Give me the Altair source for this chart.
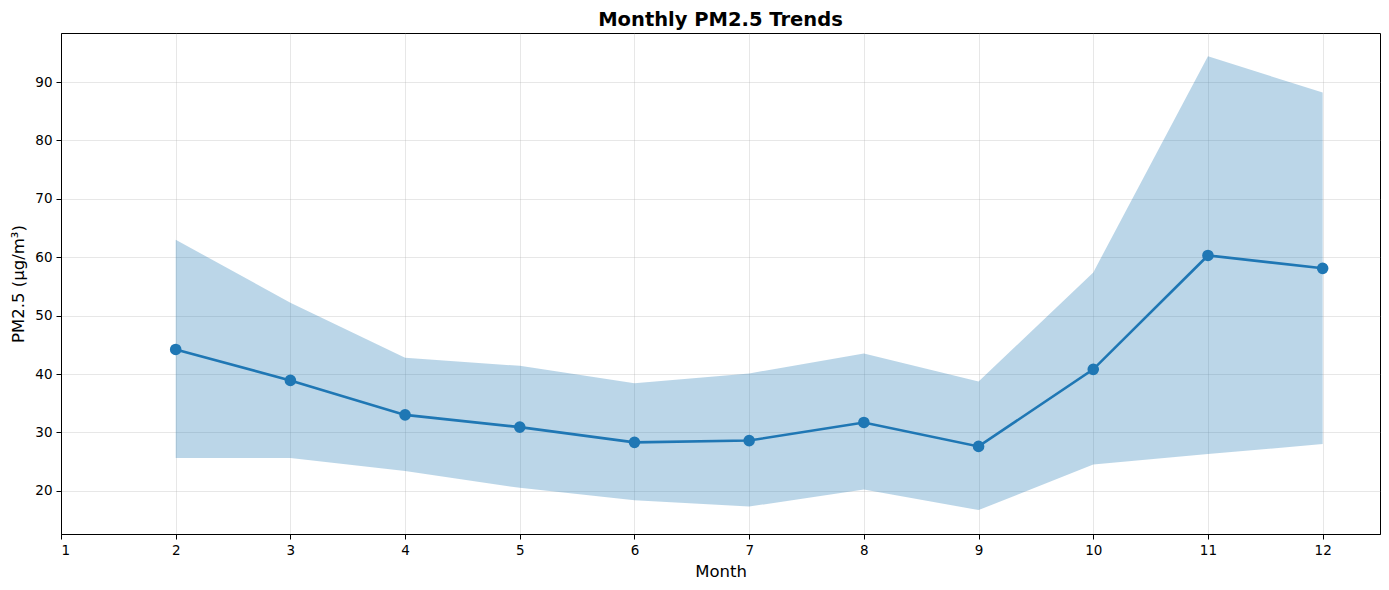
import altair as alt
import pandas as pd

months = [2, 3, 4, 5, 6, 7, 8, 9, 10, 11, 12]
mean_pm = [44.2, 38.9, 33.0, 30.9, 28.3, 28.6, 31.7, 27.6, 40.8, 60.3, 58.1]
upper_pm = [63.0, 52.2, 42.8, 41.4, 38.4, 40.1, 43.5, 38.7, 57.4, 94.4, 88.2]
lower_pm = [25.6, 25.6, 23.4, 20.5, 18.4, 17.3, 20.2, 16.7, 24.5, 26.3, 28.0]
x_ticks = [1, 2, 3, 4, 5, 6, 7, 8, 9, 10, 11, 12]
y_ticks = [20, 30, 40, 50, 60, 70, 80, 90]

df = pd.DataFrame({"Month": months, "mean": mean_pm, "upper": upper_pm, "lower": lower_pm})

C = "#1f77b4"
xs = alt.Scale(domain=[1, 12.5], nice=False, zero=False)
ys = alt.Scale(domain=[12.6, 98.4], nice=False, zero=False)

xax = alt.Axis(values=x_ticks, title="Month", format="d")
yax = alt.Axis(values=y_ticks, title="PM2.5 (µg/m³)")

base = alt.Chart(df)

band = base.mark_area(color=C, opacity=0.3).encode(
    x=alt.X("Month:Q", scale=xs, axis=xax),
    y=alt.Y("upper:Q", scale=ys, axis=yax),
    y2="lower:Q",
)
line = base.mark_line(color=C, strokeWidth=2.6).encode(
    x=alt.X("Month:Q", scale=xs),
    y=alt.Y("mean:Q", scale=ys),
)
pts = base.mark_circle(color=C, size=135, opacity=1).encode(
    x=alt.X("Month:Q", scale=xs),
    y=alt.Y("mean:Q", scale=ys),
)

chart = (
    alt.layer(band, line, pts)
    .properties(
        width=1373,
        height=574,
        autosize=alt.AutoSizeParams(type="fit", contains="padding"),
        title=alt.Title("Monthly PM2.5 Trends", fontSize=19.5, fontWeight="bold",
                        font="DejaVu Sans", color="black", offset=3),
        padding={"left": 2, "top": 1, "right": 1, "bottom": 2},
    )
    .configure_view(stroke="black", strokeWidth=1)
    .configure_axis(
        labelFont="DejaVu Sans", titleFont="DejaVu Sans",
        labelFontSize=13.5, titleFontSize=16.5, titleFontWeight="normal",
        labelColor="black", titleColor="black",
        domainColor="black", tickColor="black", tickSize=5,
        gridColor="#b0b0b0", gridOpacity=0.3, gridWidth=1,
        labelPadding=4,
    )
    .configure_axisX(titlePadding=7)
    .configure_axisY(titlePadding=8)
)

chart.save("out.html", embed_options={"renderer": "svg", "actions": False})
